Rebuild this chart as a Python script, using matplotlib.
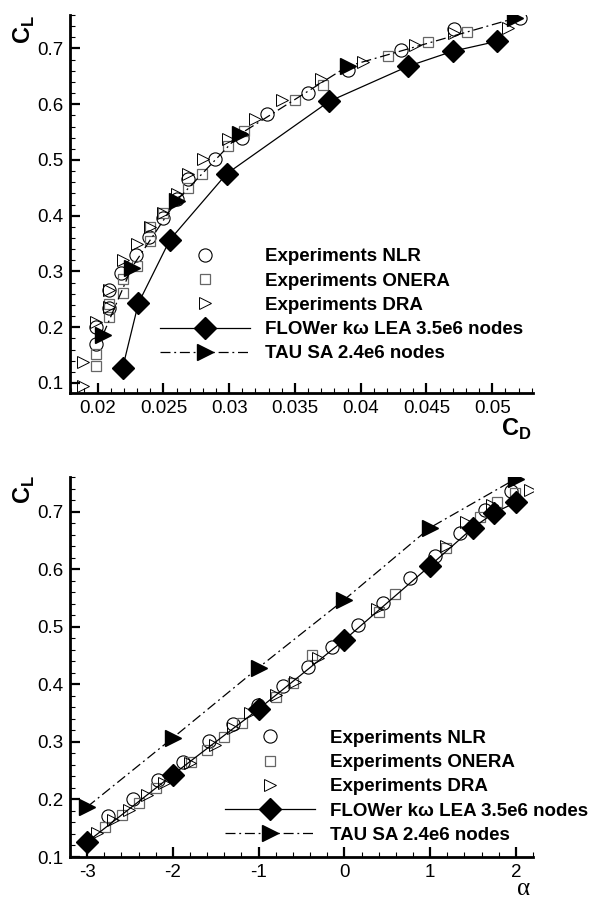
import matplotlib
matplotlib.use('Agg')
import matplotlib.pyplot as plt
from matplotlib.ticker import MultipleLocator, FuncFormatter

plt.rcParams['font.family'] = ['Liberation Sans', 'DejaVu Sans']
plt.rcParams['mathtext.fontset'] = 'custom'
plt.rcParams['mathtext.rm'] = 'Liberation Sans'
plt.rcParams['mathtext.bf'] = 'Liberation Sans:bold'

# ---- drag polar data (CD, CL) ----
nlr_cd = [0.0199, 0.0199, 0.0209, 0.0209, 0.0218, 0.0229, 0.0239, 0.0250, 0.0260,
          0.0269, 0.0289, 0.0310, 0.0329, 0.0360, 0.0390, 0.0431, 0.0471, 0.0521]
nlr_cl = [0.170, 0.200, 0.234, 0.266, 0.298, 0.330, 0.362, 0.395, 0.430,
          0.466, 0.502, 0.539, 0.582, 0.620, 0.661, 0.698, 0.734, 0.755]

onera_cd = [0.0199, 0.0199, 0.0209, 0.0209, 0.0219, 0.0219, 0.0230, 0.0240, 0.0240, 0.0250,
            0.0269, 0.0279, 0.0299, 0.0311, 0.0350, 0.0371, 0.0421, 0.0451, 0.0481]
onera_cl = [0.130, 0.152, 0.218, 0.241, 0.262, 0.286, 0.309, 0.355, 0.379, 0.404,
            0.450, 0.475, 0.525, 0.552, 0.607, 0.635, 0.687, 0.711, 0.730]

dra_cd = [0.0189, 0.0189, 0.0199, 0.0209, 0.0209, 0.0219, 0.0230, 0.0240, 0.0250, 0.0260,
          0.0269, 0.0280, 0.0299, 0.0320, 0.0340, 0.0370, 0.0402, 0.0441, 0.0471, 0.0512]
dra_cl = [0.095, 0.138, 0.209, 0.236, 0.266, 0.320, 0.350, 0.379, 0.405, 0.439,
          0.475, 0.502, 0.538, 0.573, 0.607, 0.645, 0.675, 0.707, 0.727, 0.736]

flower_cd = [0.0219, 0.0231, 0.0255, 0.0298, 0.0376, 0.0436, 0.0470, 0.0504]
flower_cl = [0.127, 0.243, 0.357, 0.475, 0.605, 0.668, 0.695, 0.713]

tau_cd = [0.0204, 0.0226, 0.0260, 0.0308, 0.0390, 0.0517]
tau_cl = [0.186, 0.307, 0.427, 0.546, 0.668, 0.754]

# ---- lift curve data (alpha, CL) ----
nlr_alpha = [-2.76, -2.47, -2.17, -1.88, -1.58, -1.30, -1.01, -0.72, -0.43,
             -0.14, 0.16, 0.45, 0.76, 1.06, 1.35, 1.64, 1.94]
nlr_cl_a = [0.171, 0.201, 0.234, 0.265, 0.302, 0.331, 0.364, 0.397, 0.430,
            0.465, 0.503, 0.542, 0.585, 0.623, 0.663, 0.702, 0.735]

onera_alpha = [-2.79, -2.59, -2.39, -2.20, -1.79, -1.60, -1.40, -1.19, -0.80,
               -0.60, -0.38, 0.40, 0.59, 1.19, 1.58, 1.78, 1.99]
onera_cl_a = [0.152, 0.173, 0.194, 0.220, 0.265, 0.286, 0.309, 0.333, 0.378,
              0.403, 0.451, 0.526, 0.556, 0.637, 0.691, 0.716, 0.733]

dra_alpha = [-2.88, -2.70, -2.51, -2.30, -2.10, -1.80, -1.51, -1.30, -1.10, -0.80,
             -0.58, -0.31, 0.38, 1.19, 1.42, 1.72, 2.17]
dra_cl_a = [0.142, 0.164, 0.182, 0.208, 0.229, 0.263, 0.295, 0.324, 0.350, 0.382,
            0.404, 0.446, 0.530, 0.641, 0.681, 0.712, 0.738]

flower_alpha = [-3, -2, -1, 0, 1, 1.5, 1.75, 2]
flower_cl_a = [0.126, 0.243, 0.357, 0.477, 0.606, 0.672, 0.698, 0.716]

tau_alpha = [-3, -2, -1, 0, 1, 2]
tau_cl_a = [0.187, 0.307, 0.429, 0.547, 0.672, 0.757]

labels = ['Experiments NLR', 'Experiments ONERA', 'Experiments DRA',
          'FLOWer k\u03c9 LEA 3.5e6 nodes', 'TAU SA 2.4e6 nodes']


def draw(ax, sets):
    (x1, y1), (x2, y2), (x3, y3), (x4, y4), (x5, y5) = sets
    ax.plot(x1, y1, ls='none', marker='o', ms=9.5, mfc='none', mec='black', mew=0.8, label=labels[0])
    ax.plot(x2, y2, ls='none', marker='s', ms=6.5, mfc='none', mec='#666666', mew=0.9, label=labels[1])
    ax.plot(x3, y3, ls='none', marker='>', ms=8.5, mfc='none', mec='black', mew=0.7, label=labels[2])
    ax.plot(x4, y4, ls='-', lw=0.9, color='black', marker='D', ms=11, label=labels[3])
    ax.plot(x5, y5, ls=(0, (8, 3, 1.5, 3)), lw=0.9, color='black', marker='>', ms=12, label=labels[4])


def style(ax):
    for s in ['top', 'right']:
        ax.spines[s].set_visible(False)
    for s in ['left', 'bottom']:
        ax.spines[s].set_linewidth(2)
    ax.tick_params(which='both', direction='in', top=False, right=False, labelsize=13.5)
    ax.tick_params(which='major', length=7, width=1.6, pad=5)
    ax.tick_params(which='minor', length=3.5, width=0.8)
    fmt = FuncFormatter(lambda v, p: '%g' % round(v, 6))
    ax.xaxis.set_major_formatter(fmt)
    ax.yaxis.set_major_formatter(fmt)


leg_kw = dict(loc='upper left', frameon=False, borderpad=0, borderaxespad=0,
              handlelength=4.8, handletextpad=0.8, labelspacing=0.38, numpoints=1,
              prop={'weight': 'bold', 'size': 13.5})

fig = plt.figure(figsize=(6.14, 9), dpi=100)

# top: drag polar
ax1 = fig.add_axes([70/614, 1-393/900, 463/614, 378/900])
draw(ax1, [(nlr_cd, nlr_cl), (onera_cd, onera_cl), (dra_cd, dra_cl),
           (flower_cd, flower_cl), (tau_cd, tau_cl)])
ax1.set_xlim(0.0179, 0.0531)
ax1.set_ylim(0.082, 0.76)
ax1.xaxis.set_major_locator(MultipleLocator(0.005))
ax1.xaxis.set_minor_locator(MultipleLocator(0.001))
ax1.yaxis.set_major_locator(MultipleLocator(0.1))
ax1.yaxis.set_minor_locator(MultipleLocator(0.02))
style(ax1)
ax1.legend(bbox_to_anchor=(0.194, 0.383), **leg_kw)

# bottom: lift curve
ax2 = fig.add_axes([70/614, 1-857/900, 463/614, 380/900])
draw(ax2, [(nlr_alpha, nlr_cl_a), (onera_alpha, onera_cl_a), (dra_alpha, dra_cl_a),
           (flower_alpha, flower_cl_a), (tau_alpha, tau_cl_a)])
ax2.set_xlim(-3.2, 2.2)
ax2.set_ylim(0.1, 0.76)
ax2.xaxis.set_major_locator(MultipleLocator(1))
ax2.xaxis.set_minor_locator(MultipleLocator(0.2))
ax2.yaxis.set_major_locator(MultipleLocator(0.1))
ax2.yaxis.set_minor_locator(MultipleLocator(0.02))
style(ax2)
ax2.legend(bbox_to_anchor=(0.335, 0.335), **leg_kw)

# axis titles
fig.text(24/614, 1-30/900, r'$\mathbf{C}_\mathbf{L}$', rotation=90, fontsize=17,
         ha='center', va='center')
fig.text(24/614, 1-490/900, r'$\mathbf{C}_\mathbf{L}$', rotation=90, fontsize=17,
         ha='center', va='center')
fig.text(516/614, 1-429/900, r'$\mathbf{C}_\mathbf{D}$', fontsize=17,
         ha='center', va='center')
fig.text(524/614, 1-889/900, '\u03b1', fontsize=18, family='Liberation Serif',
         ha='center', va='center')

fig.savefig('out.png', dpi=100)
